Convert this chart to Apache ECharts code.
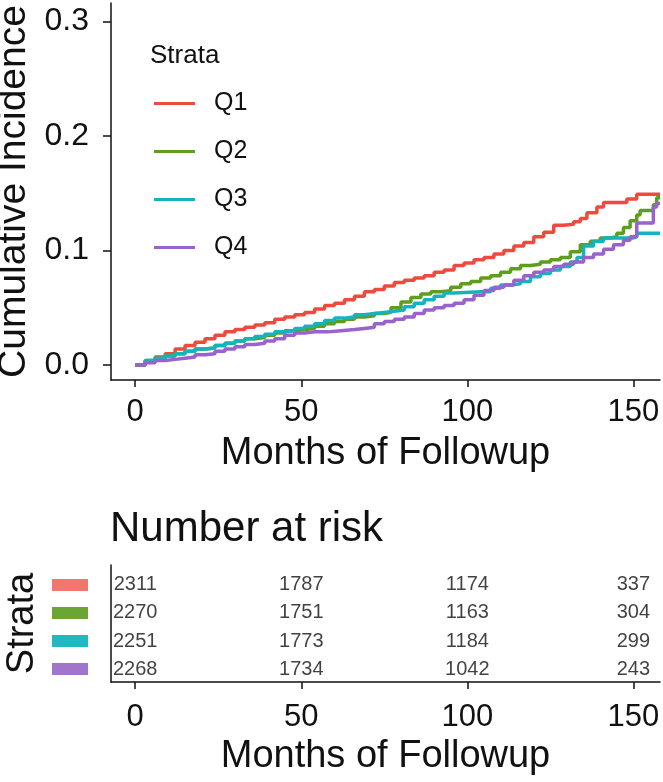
<!DOCTYPE html>
<html>
<head>
<meta charset="utf-8">
<script src="https://cdn.jsdelivr.net/npm/echarts@6/dist/echarts.min.js"></script>
<style>
  html, body { margin: 0; padding: 0; background: #fff; }
  #chart { width: 663px; height: 782px; }
</style>
</head>
<body>
<div id="chart"></div>
<script>
  // strata and the cumulative incidence steps, [month, incidence]
  const strata = ['Q1', 'Q2', 'Q3', 'Q4'];

  const q1Steps = [[0, 0], [3, 0.003], [6, 0.007], [9, 0.010], [12, 0.014], [15, 0.017], [18, 0.020], [21, 0.023],
    [24, 0.026], [27, 0.029], [30, 0.031], [33, 0.033], [36, 0.035], [39, 0.037], [42, 0.040], [45, 0.042],
    [48, 0.044], [51, 0.046], [54, 0.049], [57, 0.052], [60, 0.054], [63, 0.057], [66, 0.060], [69, 0.064],
    [72, 0.066], [75, 0.069], [78, 0.072], [81, 0.074], [84, 0.076], [87, 0.078], [90, 0.081], [93, 0.083],
    [96, 0.087], [99, 0.089], [102, 0.092], [105, 0.094], [108, 0.097], [111, 0.100], [114, 0.104], [117, 0.107],
    [120, 0.112], [123, 0.116], [126, 0.122], [129, 0.123], [132, 0.125], [134, 0.128], [136, 0.133], [139, 0.138],
    [141, 0.142], [148, 0.145], [151, 0.149], [158, 0.149]];

  const q2Steps = [[0, 0], [3, 0.004], [6, 0.006], [9, 0.008], [12, 0.010], [15, 0.012], [18, 0.014], [21, 0.015],
    [24, 0.017], [27, 0.019], [30, 0.021], [33, 0.023], [36, 0.024], [39, 0.026], [42, 0.028], [45, 0.030],
    [48, 0.031], [51, 0.032], [54, 0.034], [57, 0.036], [60, 0.038], [63, 0.040], [66, 0.042], [69, 0.043],
    [72, 0.045], [75, 0.046], [77, 0.050], [80, 0.055], [83, 0.059], [86, 0.062], [89, 0.064], [92, 0.065],
    [95, 0.068], [98, 0.071], [101, 0.073], [104, 0.076], [107, 0.078], [110, 0.081], [113, 0.084], [116, 0.087],
    [119, 0.088], [122, 0.090], [125, 0.092], [128, 0.094], [131, 0.099], [134, 0.105], [137, 0.108], [140, 0.111],
    [143, 0.112], [145, 0.115], [147, 0.120], [149, 0.126], [151, 0.131], [152, 0.135], [156, 0.140], [157, 0.146],
    [158, 0.146]];

  const q3Steps = [[0, 0], [3, 0.004], [6, 0.006], [9, 0.008], [12, 0.010], [15, 0.012], [18, 0.014], [21, 0.015],
    [24, 0.017], [27, 0.019], [30, 0.021], [33, 0.023], [36, 0.025], [39, 0.027], [42, 0.029], [45, 0.030],
    [48, 0.032], [51, 0.034], [54, 0.036], [57, 0.039], [60, 0.041], [63, 0.042], [66, 0.044], [69, 0.045],
    [72, 0.046], [75, 0.047], [78, 0.048], [81, 0.051], [84, 0.054], [87, 0.057], [90, 0.060], [93, 0.063],
    [96, 0.064], [104, 0.064], [107, 0.067], [110, 0.070], [113, 0.071], [116, 0.073], [119, 0.077], [122, 0.080],
    [125, 0.083], [128, 0.086], [131, 0.090], [133, 0.094], [135, 0.104], [138, 0.108], [141, 0.111], [150, 0.112],
    [151, 0.115], [158, 0.115]];

  const q4Steps = [[0, 0], [3, 0.002], [6, 0.004], [9, 0.005], [12, 0.006], [15, 0.007], [18, 0.009], [21, 0.010],
    [24, 0.012], [27, 0.014], [30, 0.016], [33, 0.018], [36, 0.019], [39, 0.021], [42, 0.023], [45, 0.026],
    [48, 0.028], [51, 0.029], [54, 0.029], [58, 0.030], [62, 0.031], [66, 0.032], [69, 0.033], [72, 0.036],
    [75, 0.038], [78, 0.040], [81, 0.042], [84, 0.045], [87, 0.048], [90, 0.050], [93, 0.052], [96, 0.054],
    [99, 0.057], [102, 0.061], [105, 0.065], [108, 0.068], [111, 0.070], [114, 0.074], [117, 0.078], [120, 0.081],
    [123, 0.083], [126, 0.086], [129, 0.088], [132, 0.090], [135, 0.094], [138, 0.097], [141, 0.101], [144, 0.105],
    [147, 0.109], [149, 0.112], [151, 0.124], [155, 0.124], [156, 0.138], [157, 0.141], [158, 0.141]];

  // number at risk table
  const riskMonths = [0, 50, 100, 150];
  const q1Risk = [2311, 1787, 1174, 337];
  const q2Risk = [2270, 1751, 1163, 304];
  const q3Risk = [2251, 1773, 1184, 299];
  const q4Risk = [2268, 1734, 1042, 243];

  const monthTicks = [0, 50, 100, 150];
  const incidenceTicks = [0, 0.1, 0.2, 0.3];

  const lineColors = ['#EE4B3E', '#5E9E1E', '#14B4BE', '#9A62CC'];
  const boxColors = ['#F2766C', '#6BA534', '#21B9C1', '#A275CC'];
  const font = "'Liberation Sans', Arial, sans-serif";

  const steps = [q1Steps, q2Steps, q3Steps, q4Steps];
  const risks = [q1Risk, q2Risk, q3Risk, q4Risk];

  const axisLine = { show: true, onZero: false, lineStyle: { color: '#111', width: 1.5 } };
  const tickStyle = { color: '#111', width: 1.5 };

  const chart = echarts.init(document.getElementById('chart'), null, { renderer: 'canvas' });

  const riskData = [];
  risks.forEach((row, i) => {
    row.forEach((n, j) => riskData.push([riskMonths[j], i, n]));
  });

  const boxRich = {};
  boxColors.forEach((c, i) => {
    boxRich['b' + i] = { backgroundColor: c, width: 36, height: 12 };
  });

  const option = {
    animation: false,
    textStyle: { fontFamily: font },
    title: [
      {
        text: 'Strata',
        left: 150,
        top: 43,
        padding: 0,
        textStyle: { fontFamily: font, fontSize: 26, fontWeight: 'normal', color: '#111' },
      },
      {
        text: 'Number at risk',
        left: 110,
        top: 508,
        padding: 0,
        textStyle: { fontFamily: font, fontSize: 42, fontWeight: 'normal', color: '#111' },
      },
    ],
    legend: {
      data: strata,
      orient: 'vertical',
      left: 154,
      top: 91,
      icon: 'rect',
      itemWidth: 41,
      itemHeight: 3,
      itemGap: 23,
      padding: 0,
      textStyle: { fontFamily: font, fontSize: 25, color: '#111', padding: [0, 0, 0, 14] },
    },
    grid: [
      { left: 111, right: 3, top: 3, height: 377, outerBoundsMode: 'none' },
      { left: 111, right: 3, top: 565, height: 117, outerBoundsMode: 'none' },
    ],
    xAxis: [
      {
        gridIndex: 0,
        type: 'value',
        min: -7.3,
        max: 158,
        name: 'Months of Followup',
        nameLocation: 'middle',
        nameGap: 55,
        nameTextStyle: { fontFamily: font, fontSize: 38, color: '#111' },
        axisLine,
        axisTick: { show: true, length: 7, customValues: monthTicks, lineStyle: tickStyle },
        axisLabel: { customValues: monthTicks, margin: 17, fontSize: 31, color: '#111', fontFamily: font },
        splitLine: { show: false },
      },
      {
        gridIndex: 1,
        type: 'value',
        min: -7.3,
        max: 158,
        name: 'Months of Followup',
        nameLocation: 'middle',
        nameGap: 56,
        nameTextStyle: { fontFamily: font, fontSize: 38, color: '#111' },
        axisLine,
        axisTick: { show: true, length: 7, customValues: monthTicks, lineStyle: tickStyle },
        axisLabel: { customValues: monthTicks, margin: 20, fontSize: 31, color: '#111', fontFamily: font },
        splitLine: { show: false },
      },
    ],
    yAxis: [
      {
        gridIndex: 0,
        type: 'value',
        min: -0.013,
        max: 0.316,
        name: 'Cumulative Incidence',
        nameLocation: 'middle',
        nameRotate: 90,
        nameGap: 55,
        nameTextStyle: { fontFamily: font, fontSize: 39, color: '#111' },
        axisLine,
        axisTick: { show: true, length: 8, customValues: incidenceTicks, lineStyle: tickStyle },
        axisLabel: {
          customValues: incidenceTicks,
          margin: 22,
          fontSize: 32,
          color: '#111',
          fontFamily: font,
          formatter: (v) => v.toFixed(1),
        },
        splitLine: { show: false },
      },
      {
        gridIndex: 1,
        type: 'value',
        inverse: true,
        min: -0.71,
        max: 3.46,
        name: 'Strata',
        nameLocation: 'middle',
        nameRotate: 90,
        nameGap: 57,
        nameTextStyle: { fontFamily: font, fontSize: 38, color: '#111' },
        axisLine,
        axisTick: { show: false },
        axisLabel: {
          customValues: [0, 1, 2, 3],
          margin: 23,
          formatter: (v) => '{b' + v + '|}',
          rich: boxRich,
        },
        splitLine: { show: false },
      },
    ],
    series: [
      ...strata.map((name, i) => ({
        name,
        type: 'line',
        xAxisIndex: 0,
        yAxisIndex: 0,
        step: 'end',
        symbol: 'none',
        data: steps[i],
        lineStyle: { color: lineColors[i], width: 3.5 },
        itemStyle: { color: lineColors[i] },
      })),
      {
        type: 'scatter',
        xAxisIndex: 1,
        yAxisIndex: 1,
        symbolSize: 0,
        data: riskData,
        label: {
          show: true,
          position: 'inside',
          formatter: (p) => p.value[2],
          fontFamily: font,
          fontSize: 20,
          color: '#111',
        },
      },
    ],
  };

  chart.setOption(option);
</script>
</body>
</html>
